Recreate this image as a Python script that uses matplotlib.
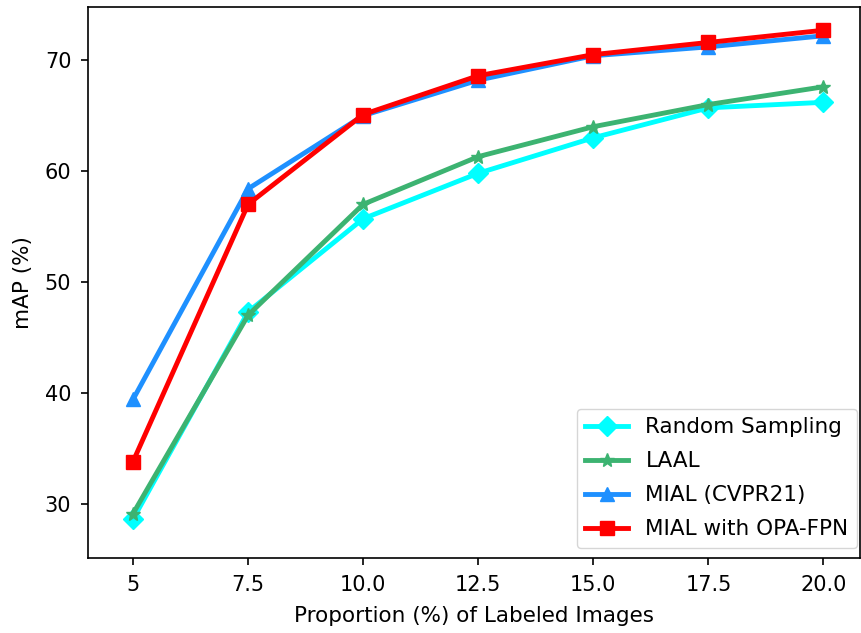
import numpy as np
import matplotlib.pyplot as plt

# proportion of labeled images (%)
x = [5, 7.5, 10.0, 12.5, 15.0, 17.5, 20.0]

random_sampling = [28.6, 47.3, 55.7, 59.8, 63.0, 65.7, 66.2]
laal = [29.1, 47.0, 57.0, 61.3, 64.0, 66.0, 67.6]
mial = [39.4, 58.4, 65.0, 68.2, 70.4, 71.2, 72.2]
mial_opa = [33.8, 57.0, 65.1, 68.6, 70.5, 71.6, 72.7]

xtick_labels = ['5', '7.5', '10.0', '12.5', '15.0', '17.5', '20.0']

fig = plt.figure(figsize=(8.62, 6.33), dpi=100)
ax = fig.add_axes([0.102, 0.1185, 0.896, 0.8705])

ax.plot(x, random_sampling, color='cyan', marker='D', lw=3.5, ms=10, label='Random Sampling')
ax.plot(x, laal, color='mediumseagreen', marker='*', lw=3.5, ms=10, label='LAAL')
ax.plot(x, mial, color='dodgerblue', marker='^', lw=3.5, ms=10, label='MIAL (CVPR21)')
ax.plot(x, mial_opa, color='red', marker='s', lw=3.5, ms=10, label='MIAL with OPA-FPN')

ax.set_xticks(x)
ax.set_xticklabels(xtick_labels)
ax.set_xlim(4.02, 20.8)
ax.set_ylim(25.1, 74.8)
ax.tick_params(labelsize=15, length=5, width=1.2, pad=7)
for s in ax.spines.values():
    s.set_linewidth(1.2)
ax.set_xlabel('Proportion (%) of Labeled Images', fontsize=15.5)
ax.set_ylabel('mAP (%)', fontsize=15.5)
ax.yaxis.set_label_coords(-0.071, 0.5)
ax.xaxis.set_label_coords(0.5, -0.088)
ax.legend(loc='lower right', fontsize=15.5, bbox_to_anchor=(0.996, 0.018),
          borderaxespad=0, labelspacing=0.65)

fig.savefig('out.png', dpi=100)
